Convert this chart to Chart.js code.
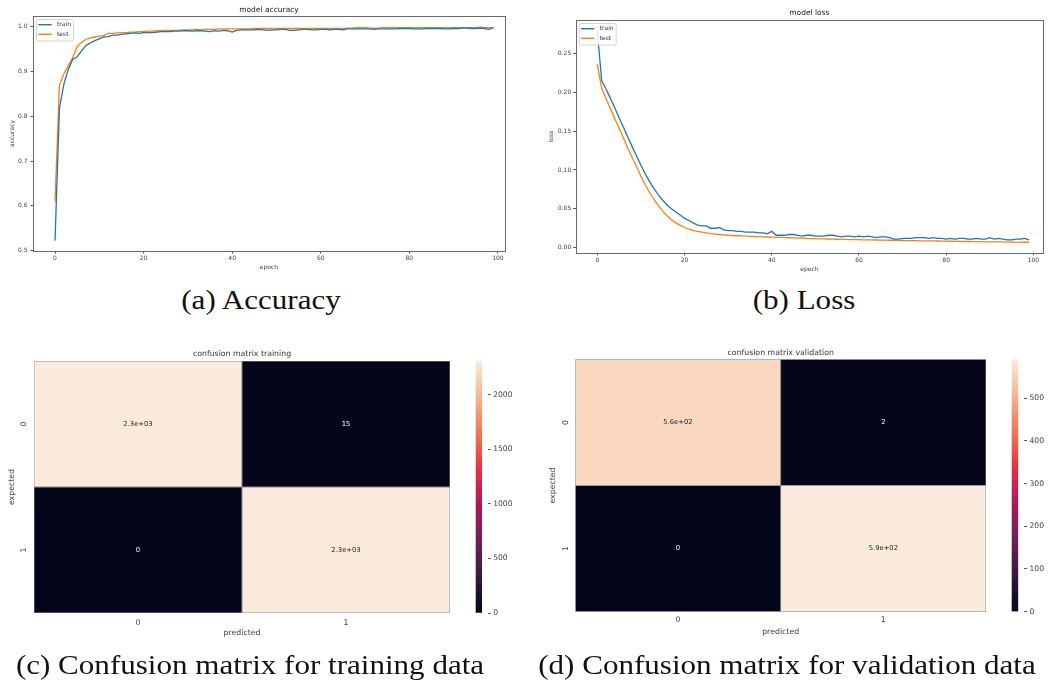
<!DOCTYPE html>
<html>
<head>
<meta charset="utf-8">
<script src="https://cdn.jsdelivr.net/npm/chart.js@4.4.0/dist/chart.umd.min.js"></script>
<style>
  html, body { margin: 0; padding: 0; background: #fff; }
  body { width: 1049px; height: 687px; position: relative; overflow: hidden; }
  canvas { position: absolute; display: block; }
  .cap { position: absolute; font-family: "Liberation Serif", "DejaVu Serif", serif; font-size: 27px;
         color: #111; white-space: nowrap; transform: translate(-50%, -50%) scaleX(1.15); }
</style>
</head>
<body>
<canvas id="acc" width="520" height="280" style="left:0;top:0"></canvas>
<canvas id="loss" width="529" height="280" style="left:520px;top:0"></canvas>
<canvas id="cmTrain" width="470" height="310" style="left:0;top:340px"></canvas>
<canvas id="cbTrain" width="50" height="310" style="left:470px;top:340px"></canvas>
<canvas id="cmVal" width="490" height="310" style="left:520px;top:340px"></canvas>
<canvas id="cbVal" width="44" height="310" style="left:1005px;top:340px"></canvas>

<div class="cap" style="left:261px;top:300px">(a) Accuracy</div>
<div class="cap" style="left:804px;top:300px">(b) Loss</div>
<div class="cap" style="left:250px;top:665px">(c) Confusion matrix for training data</div>
<div class="cap" style="left:787px;top:665px">(d) Confusion matrix for validation data</div>

<script>
// ---------------- training history (one value per epoch, 100 epochs) ----------------
const accTrain = [
  0.522,0.818,0.872,0.905,0.927,0.933,0.946,0.958,0.964,0.969,
  0.973,0.977,0.978,0.981,0.981,0.983,0.984,0.985,0.986,0.985,
  0.987,0.987,0.987,0.988,0.989,0.989,0.989,0.990,0.990,0.991,
  0.991,0.990,0.991,0.991,0.990,0.989,0.991,0.990,0.992,0.991,
  0.988,0.992,0.993,0.993,0.993,0.993,0.994,0.993,0.992,0.993,
  0.993,0.994,0.994,0.992,0.992,0.993,0.994,0.994,0.993,0.993,
  0.994,0.994,0.993,0.994,0.994,0.993,0.995,0.995,0.995,0.995,
  0.995,0.995,0.994,0.995,0.995,0.995,0.995,0.995,0.996,0.996,
  0.996,0.995,0.995,0.995,0.996,0.996,0.996,0.996,0.995,0.995,
  0.996,0.996,0.997,0.997,0.996,0.996,0.997,0.996,0.994,0.998
];
const accTest = [
  0.609,0.869,0.895,0.913,0.931,0.956,0.965,0.972,0.975,0.977,
  0.979,0.980,0.985,0.985,0.986,0.987,0.987,0.988,0.988,0.989,
  0.989,0.990,0.990,0.991,0.991,0.992,0.992,0.992,0.992,0.993,
  0.993,0.993,0.994,0.993,0.994,0.994,0.994,0.995,0.995,0.995,
  0.995,0.995,0.995,0.995,0.995,0.996,0.996,0.996,0.996,0.996,
  0.996,0.996,0.996,0.996,0.996,0.996,0.996,0.996,0.996,0.996,
  0.996,0.996,0.996,0.996,0.996,0.996,0.997,0.997,0.998,0.998,
  0.998,0.997,0.997,0.997,0.998,0.998,0.998,0.998,0.998,0.998,
  0.998,0.998,0.998,0.998,0.998,0.998,0.998,0.998,0.998,0.998,
  0.998,0.998,0.998,0.998,0.998,0.998,0.999,0.998,0.998,0.998
];
const lossTrain = [
  0.280,0.215,0.204,0.192,0.180,0.167,0.155,0.142,0.130,0.118,
  0.106,0.095,0.085,0.076,0.068,0.061,0.055,0.050,0.046,0.042,
  0.038,0.035,0.032,0.029,0.028,0.028,0.025,0.025,0.026,0.023,
  0.022,0.022,0.021,0.021,0.020,0.020,0.020,0.019,0.019,0.018,
  0.021,0.016,0.016,0.016,0.017,0.017,0.016,0.015,0.016,0.016,
  0.015,0.015,0.015,0.016,0.016,0.015,0.014,0.015,0.015,0.014,
  0.015,0.014,0.015,0.014,0.013,0.014,0.014,0.013,0.011,0.011,
  0.012,0.012,0.012,0.013,0.013,0.013,0.012,0.013,0.012,0.012,
  0.011,0.012,0.011,0.012,0.012,0.011,0.011,0.012,0.011,0.011,
  0.013,0.011,0.012,0.011,0.010,0.010,0.011,0.011,0.012,0.010
];
const lossTest = [
  0.236,0.205,0.192,0.179,0.166,0.154,0.141,0.128,0.116,0.104,
  0.092,0.081,0.071,0.062,0.054,0.047,0.041,0.036,0.032,0.029,
  0.026,0.024,0.022,0.021,0.020,0.019,0.018,0.0175,0.017,0.0165,
  0.016,0.0157,0.0154,0.0151,0.0148,0.0146,0.0144,0.0142,0.014,0.0138,
  0.0136,0.0134,0.0132,0.013,0.0128,0.0126,0.0124,0.0122,0.012,0.0118,
  0.0116,0.0114,0.0113,0.0112,0.011,0.0109,0.0108,0.0106,0.0105,0.0104,
  0.0103,0.0102,0.0101,0.010,0.0099,0.0098,0.0097,0.0096,0.0095,0.0094,
  0.0093,0.0092,0.0091,0.009,0.0089,0.0088,0.0087,0.0087,0.0086,0.0085,
  0.0084,0.0083,0.0082,0.0081,0.008,0.008,0.0079,0.0078,0.0077,0.0076,
  0.0076,0.0075,0.0074,0.0074,0.0073,0.0072,0.0072,0.0071,0.007,0.007
];

// tick labels
const epochTicks = [0, 20, 40, 60, 80, 100];
const accTicks = [0.5, 0.6, 0.7, 0.8, 0.9, 1.0];
const lossTicks = [0.00, 0.05, 0.10, 0.15, 0.20, 0.25];

// confusion matrices: rows = expected class, columns = predicted class
const classLabels = ['0', '1'];
const cmTraining = [[2311, 15], [0, 2305]];
const cmValidation = [[560, 2], [0, 591]];
const cbTicksTraining = [0, 500, 1000, 1500, 2000];
const cbTicksValidation = [0, 100, 200, 300, 400, 500];

// ---------------- styling helpers ----------------
const SANS = '"DejaVu Sans", sans-serif';
const TRAIN_COLOR = '#1f77b4';
const TEST_COLOR = '#ff7f0e';

// "rocket" colormap stops
const rocketStops = [
  [0.000, [3, 5, 26]],
  [0.143, [53, 25, 62]],
  [0.286, [112, 31, 87]],
  [0.429, [173, 23, 89]],
  [0.571, [225, 51, 66]],
  [0.714, [243, 118, 81]],
  [0.857, [246, 180, 143]],
  [1.000, [250, 235, 221]]
];
function rocketRGB(t) {
  t = Math.max(0, Math.min(1, t));
  for (let i = 1; i < rocketStops.length; i++) {
    const [t1, c1] = rocketStops[i];
    const [t0, c0] = rocketStops[i - 1];
    if (t <= t1) {
      const f = (t - t0) / (t1 - t0);
      return c0.map((v, k) => Math.round(v + (c1[k] - v) * f));
    }
  }
  return rocketStops[rocketStops.length - 1][1];
}
const rgbStr = c => `rgb(${c[0]},${c[1]},${c[2]})`;
function luminance(c) {
  const lin = c.map(v => { v /= 255; return v <= 0.03928 ? v / 12.92 : Math.pow((v + 0.055) / 1.055, 2.4); });
  return 0.2126 * lin[0] + 0.7152 * lin[1] + 0.0722 * lin[2];
}
// two significant digits, like printf "%.2g"
function fmt2g(v) {
  if (v === 0) return '0';
  const e = Math.floor(Math.log10(Math.abs(v)));
  if (e >= 2 || e < -4) {
    const [m, ex] = v.toExponential(1).split('e');
    const n = parseInt(ex, 10);
    return m + 'e' + (n < 0 ? '-' : '+') + String(Math.abs(n)).padStart(2, '0');
  }
  return String(parseFloat(v.toPrecision(2)));
}

// ---------------- plugins ----------------
const axesTitle = {
  id: 'axesTitle',
  afterDraw(chart, args, o) {
    if (!o.text) return;
    const { ctx, chartArea: ca } = chart;
    ctx.save();
    ctx.font = `${o.size}px ${SANS}`;
    ctx.fillStyle = o.color || '#222';
    ctx.textAlign = 'center';
    ctx.textBaseline = 'middle';
    ctx.fillText(o.text, (ca.left + ca.right) / 2, ca.top - o.offset);
    ctx.restore();
  }
};
const axesFrame = {
  id: 'axesFrame',
  afterDatasetsDraw(chart, args, o) {
    if (!o.show) return;
    const { ctx, chartArea: ca } = chart;
    ctx.save();
    ctx.strokeStyle = '#6a6a6a';
    ctx.lineWidth = 1;
    ctx.strokeRect(Math.round(ca.left) + 0.5, Math.round(ca.top) + 0.5,
                   Math.round(ca.right - ca.left), Math.round(ca.bottom - ca.top));
    ctx.restore();
  }
};
const boxLegend = {
  id: 'boxLegend',
  afterDatasetsDraw(chart, args, o) {
    if (!o.show) return;
    const { ctx, chartArea: ca } = chart;
    const x = ca.left + o.dx, y = ca.top + o.dy;
    ctx.save();
    ctx.fillStyle = 'rgba(255,255,255,0.85)';
    ctx.strokeStyle = '#d2d2d2';
    ctx.lineWidth = 1;
    ctx.beginPath();
    ctx.roundRect(x + 0.5, y + 0.5, o.w, o.h, 2);
    ctx.fill();
    ctx.stroke();
    ctx.font = `6px ${SANS}`;
    ctx.textBaseline = 'middle';
    ctx.textAlign = 'left';
    chart.data.datasets.forEach((ds, i) => {
      const ly = y + 5.7 + i * 9.6;
      ctx.strokeStyle = ds.borderColor;
      ctx.lineWidth = 1.4;
      ctx.beginPath();
      ctx.moveTo(x + 2.3, ly);
      ctx.lineTo(x + 15.7, ly);
      ctx.stroke();
      ctx.fillStyle = '#333';
      ctx.fillText(ds.label, x + 21, ly);
    });
    ctx.restore();
  }
};
const cellLabels = {
  id: 'cellLabels',
  afterDatasetsDraw(chart, args, o) {
    if (!o.show) return;
    const { ctx } = chart;
    ctx.save();
    ctx.font = `6.8px ${SANS}`;
    ctx.textAlign = 'center';
    ctx.textBaseline = 'middle';
    chart.data.datasets.forEach((ds, i) => {
      const meta = chart.getDatasetMeta(i);
      meta.data.forEach((el, j) => {
        const v = ds.values[j];
        const c = rocketRGB(v / o.vmax);
        ctx.fillStyle = luminance(c) > 0.408 ? '#262626' : '#ffffff';
        const p = el.getCenterPoint();
        ctx.fillText(fmt2g(v), p.x, p.y);
      });
    });
    ctx.restore();
  }
};
Chart.register(axesTitle, axesFrame, boxLegend, cellLabels);
Chart.defaults.font.family = SANS;
Chart.defaults.color = '#444';

// ---------------- line charts ----------------
function historyChart(id, train, test, g) {
  return new Chart(document.getElementById(id), {
    type: 'line',
    data: {
      datasets: [
        { label: 'train', data: train.map((v, i) => ({ x: i, y: v })), borderColor: TRAIN_COLOR,
          borderWidth: 1.3, pointRadius: 0, tension: 0, fill: false },
        { label: 'test', data: test.map((v, i) => ({ x: i, y: v })), borderColor: TEST_COLOR,
          borderWidth: 1.3, pointRadius: 0, tension: 0, fill: false }
      ]
    },
    options: {
      responsive: false, animation: false, events: [],
      layout: { padding: { top: g.top, right: g.right, left: 0, bottom: 0 } },
      plugins: {
        legend: { display: false }, tooltip: { enabled: false },
        axesTitle: { text: g.title, size: 7.5, offset: g.titleOffset, color: '#222' },
        axesFrame: { show: true },
        boxLegend: { show: true, dx: 3, dy: 3, w: 37, h: 21.5 },
        cellLabels: { show: false }
      },
      scales: {
        x: {
          type: 'linear', min: g.xmin, max: g.xmax,
          afterBuildTicks: s => { s.ticks = epochTicks.map(v => ({ value: v })); },
          afterFit: s => { s.height = g.xAxisH; },
          ticks: { font: { size: 6 }, color: '#444', padding: 1, maxRotation: 0, autoSkip: false,
                   callback: v => String(v) },
          grid: { drawOnChartArea: false, drawTicks: true, tickLength: 2.5, color: '#555' },
          border: { display: false },
          title: { display: true, text: 'epoch', font: { size: 6 }, color: '#444',
                   padding: { top: 0, bottom: g.xTitlePad } }
        },
        y: {
          type: 'linear', min: g.ymin, max: g.ymax,
          afterBuildTicks: s => { s.ticks = g.yTicks.map(v => ({ value: v })); },
          afterFit: s => { s.width = g.yAxisW; },
          ticks: { font: { size: 6 }, color: '#444', padding: g.yTickPad, autoSkip: false,
                   callback: v => v.toFixed(g.decimals) },
          grid: { drawOnChartArea: false, drawTicks: true, tickLength: 2.5, color: '#555' },
          border: { display: false },
          title: { display: true, text: g.yLabel, font: { size: 6 }, color: '#444',
                   padding: { top: g.yTitlePad, bottom: 0 } }
        }
      }
    }
  });
}

historyChart('acc', accTrain, accTest, {
  title: 'model accuracy', titleOffset: 6,
  top: 16, right: 15, xAxisH: 29, yAxisW: 33,
  xmin: -4.97, xmax: 101.6, ymin: 0.4993, ymax: 1.0239,
  yTicks: accTicks, decimals: 1, yLabel: 'accuracy',
  xTitlePad: 9.4, yTitlePad: 8.7, yTickPad: 3
});
historyChart('loss', lossTrain, lossTest, {
  title: 'model loss', titleOffset: 7,
  top: 20, right: 6, xAxisH: 27, yAxisW: 55.7,
  xmin: -4.95, xmax: 102.2, ymin: -0.0068, ymax: 0.2928,
  yTicks: lossTicks, decimals: 2, yLabel: 'loss',
  xTitlePad: 7.4, yTitlePad: 28, yTickPad: 2
});

// ---------------- confusion matrices ----------------
function matrixChart(id, matrix, g) {
  const vmax = Math.max(...matrix.flat());
  return new Chart(document.getElementById(id), {
    type: 'bar',
    data: {
      labels: classLabels,
      datasets: matrix.map((row, r) => ({
        label: 'expected ' + classLabels[r],
        values: row,
        data: row.map(() => [r, r + 1]),
        backgroundColor: row.map(v => rgbStr(rocketRGB(v / vmax))),
        borderColor: 'rgba(105,105,105,0.75)',
        borderWidth: 0.8,
        borderSkipped: false,
        grouped: false,
        barPercentage: 1,
        categoryPercentage: 1
      }))
    },
    options: {
      responsive: false, animation: false, events: [],
      layout: { padding: { top: g.top, right: g.right, left: 0, bottom: 0 } },
      plugins: {
        legend: { display: false }, tooltip: { enabled: false },
        axesTitle: { text: g.title, size: 7.8, offset: g.titleOffset, color: '#333' },
        axesFrame: { show: false },
        boxLegend: { show: false },
        cellLabels: { show: true, vmax }
      },
      scales: {
        x: {
          type: 'category', offset: true,
          afterFit: s => { s.height = g.xAxisH; },
          ticks: { font: { size: 7.8 }, color: '#444', padding: g.xTickPad, maxRotation: 0 },
          grid: { display: false, drawTicks: false },
          border: { display: false },
          title: { display: true, text: 'predicted', font: { size: 7.8 }, color: '#444',
                   padding: { top: 0, bottom: g.xTitlePad } }
        },
        y: {
          type: 'linear', min: 0, max: 2, reverse: true,
          afterBuildTicks: s => { s.ticks = classLabels.map((c, i) => ({ value: i + 0.5 })); },
          afterFit: s => { s.width = g.yAxisW; },
          ticks: { font: { size: 7.8 }, color: '#444', padding: g.yTickPad, minRotation: 90, maxRotation: 90,
                   crossAlign: 'center', autoSkip: false,
                   callback: v => classLabels[Math.floor(v)] },
          grid: { display: false, drawTicks: false },
          border: { display: false },
          title: { display: true, text: 'expected', font: { size: 7.8 }, color: '#444',
                   padding: { top: g.yTitlePad, bottom: 0 } }
        }
      }
    }
  });
}

function colorbarChart(id, matrix, ticks, g) {
  const vmax = Math.max(...matrix.flat());
  return new Chart(document.getElementById(id), {
    type: 'bar',
    data: {
      labels: ['scale'],
      datasets: [{
        data: [[0, vmax]],
        backgroundColor: (ctx) => {
          const ca = ctx.chart.chartArea;
          if (!ca) return '#000';
          const grad = ctx.chart.ctx.createLinearGradient(0, ca.bottom, 0, ca.top);
          rocketStops.forEach(([t, c]) => grad.addColorStop(t, rgbStr(c)));
          return grad;
        },
        borderWidth: 0, barPercentage: 1, categoryPercentage: 1
      }]
    },
    options: {
      responsive: false, animation: false, events: [],
      layout: { padding: { top: g.top, bottom: g.bottom, left: g.left, right: 0 } },
      plugins: {
        legend: { display: false }, tooltip: { enabled: false },
        axesTitle: { text: '' }, axesFrame: { show: false }, boxLegend: { show: false },
        cellLabels: { show: false }
      },
      scales: {
        x: { display: false, offset: false },
        y: {
          position: 'right', min: 0, max: vmax,
          afterBuildTicks: s => { s.ticks = ticks.map(v => ({ value: v })); },
          afterFit: s => { s.width = g.axisW; },
          ticks: { font: { size: 7.6 }, color: '#444', padding: 2.5, autoSkip: false,
                   callback: v => String(v) },
          grid: { drawOnChartArea: false, drawTicks: true, tickLength: 3, color: '#555' },
          border: { display: false }
        }
      }
    }
  });
}

matrixChart('cmTrain', cmTraining, {
  title: 'confusion matrix training', titleOffset: 7,
  top: 21, right: 20, xAxisH: 37, yAxisW: 34,
  xTickPad: 5, xTitlePad: 12, yTickPad: 8, yTitlePad: 7.5
});
colorbarChart('cbTrain', cmTraining, cbTicksTraining, { top: 21, bottom: 37, left: 5.7, axisW: 32.3 });

matrixChart('cmVal', cmValidation, {
  title: 'confusion matrix validation', titleOffset: 6.6,
  top: 19.3, right: 24, xAxisH: 38.3, yAxisW: 55.3,
  xTickPad: 4, xTitlePad: 13, yTickPad: 7, yTitlePad: 28.5
});
colorbarChart('cbVal', cmValidation, cbTicksValidation, { top: 19.3, bottom: 38.3, left: 6.7, axisW: 25 });
</script>
</body>
</html>
